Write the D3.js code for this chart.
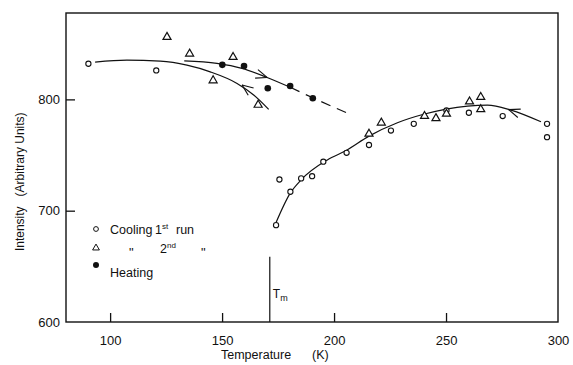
<!DOCTYPE html>
<html>
<head>
<meta charset="utf-8">
<script src="https://cdn.jsdelivr.net/npm/d3@7"></script>
<style>
  body { margin: 0; background: #fff; }
  text { font-family: "Liberation Sans", Arial, sans-serif; fill: #111; }
</style>
</head>
<body>
<div id="chart"></div>
<script>
// tick labels
var xTicks = [100, 150, 200, 250, 300];
var yTicks = [600, 700, 800];

// Cooling 1st run (open circles)
var cool1T = [90.3, 120.6, 174.1, 175.6, 180.5, 185.3, 190.2, 195.2, 205.6, 215.6, 225.4, 235.6, 250.2, 260.2, 275.3, 295.1, 295.1];
var cool1I = [832, 826, 687, 728, 717, 729, 731, 744, 752, 759, 772, 778, 790, 788, 785, 778, 766];

// Cooling 2nd run (triangles)
var cool2T = [125.4, 135.5, 154.9, 146.0, 166.1, 215.6, 221.1, 240.4, 245.5, 250.2, 260.5, 265.5, 265.5];
var cool2I = [856, 841, 838, 817, 795, 769, 779, 785, 783, 787, 798, 802, 791];

// Heating (filled circles)
var heatT = [150.1, 159.8, 170.4, 180.4, 190.5];
var heatI = [831, 830, 810, 812, 801];

// hand drawn guide curves
var curveCoolLowT = [93.3, 107.5, 122.4, 134.3, 144.7, 156.7, 164.1, 170.8];
var curveCoolLowI = [833.5, 835.2, 834.3, 830.7, 824.7, 814.3, 803.9, 791];
var curveHeatT = [133.1, 147.7, 158.9, 170.1, 180.5];
var curveHeatI = [834.6, 832.3, 827.8, 819.7, 810.8];
var curveHeatDashT = [180.5, 190.5, 206.2];
var curveHeatDashI = [810.8, 801.4, 787.5];
var curveCoolHighT = [174.1, 180.5, 185.3, 197.0, 205.4, 215.6, 228.3, 240.0, 259.6, 268.5, 279.0, 292.4];
var curveCoolHighI = [689.4, 716.0, 727.7, 745.6, 754.0, 767, 779.0, 786.6, 794, 794.9, 790.4, 779.9];

// arrows: tip and a point behind it (direction)
var arrowTipT = [158.9, 170.1, 278.0];
var arrowTipI = [813.0, 819.7, 790.8];
var arrowTailT = [163.5, 163.0, 288.0];
var arrowTailI = [806.0, 824.5, 783.8];

var tmValue = 171.3;
var tmTop = 658.7;

var margin = {top: 13, right: 15, bottom: 43, left: 66},
    width = 573 - margin.left - margin.right,
    height = 365 - margin.top - margin.bottom;

var svg = d3.select("#chart")
  .append("svg")
    .attr("width", 573)
    .attr("height", 365)
  .append("g")
    .attr("transform", "translate(" + margin.left + "," + margin.top + ")");

var x = d3.scaleLinear().domain([80.3, 300]).range([0, width]);
var y = d3.scaleLinear().domain([600, 877.6]).range([height, 0]);

// frame
svg.append("rect")
  .attr("x", 0).attr("y", 0)
  .attr("width", width).attr("height", height)
  .attr("fill", "none")
  .attr("stroke", "#111")
  .attr("stroke-width", 1.4);

// x axis ticks (inside)
var xAxis = svg.append("g")
  .attr("transform", "translate(0," + height + ")")
  .call(d3.axisBottom(x).tickValues(xTicks).tickSizeInner(-9).tickSizeOuter(0).tickPadding(14));
xAxis.select(".domain").remove();
xAxis.selectAll("line").attr("stroke", "#111").attr("stroke-width", 1.3)
  .filter(function(d) { return d === 300; }).remove();
xAxis.selectAll("text").attr("font-size", 13).attr("fill", "#111");

var yAxis = svg.append("g")
  .call(d3.axisLeft(y).tickValues(yTicks).tickSizeInner(-9).tickSizeOuter(0).tickPadding(6));
yAxis.select(".domain").remove();
yAxis.selectAll("line").attr("stroke", "#111").attr("stroke-width", 1.3)
  .filter(function(d) { return d === 600; }).remove();
yAxis.selectAll("text").attr("font-size", 13).attr("fill", "#111");

// axis titles
svg.append("text")
  .attr("x", 155).attr("y", height + 37)
  .attr("font-size", 12.5)
  .style("white-space", "pre")
  .text("Temperature      (K)");

svg.append("text")
  .attr("transform", "translate(" + (-42) + "," + (y(726)) + ") rotate(-90)")
  .attr("text-anchor", "middle")
  .attr("font-size", 12)
  .style("white-space", "pre")
  .text("Intensity   (Arbitrary Units)");

// Tm marker
svg.append("line")
  .attr("x1", x(tmValue)).attr("x2", x(tmValue))
  .attr("y1", y(tmTop)).attr("y2", height)
  .attr("stroke", "#111").attr("stroke-width", 1.2);
var tm = svg.append("text")
  .attr("x", x(tmValue) + 3).attr("y", y(622))
  .attr("font-size", 12);
tm.append("tspan").text("T");
tm.append("tspan").attr("font-size", 9).attr("dy", 3).text("m");

// curves
var line = d3.line()
  .x(function(d) { return x(d[0]); })
  .y(function(d) { return y(d[1]); })
  .curve(d3.curveMonotoneX);

function pairs(a, b) { return a.map(function(v, i) { return [v, b[i]]; }); }

svg.append("path").datum(pairs(curveCoolLowT, curveCoolLowI))
  .attr("d", line).attr("fill", "none").attr("stroke", "#111").attr("stroke-width", 1.2);
svg.append("path").datum(pairs(curveHeatT, curveHeatI))
  .attr("d", line).attr("fill", "none").attr("stroke", "#111").attr("stroke-width", 1.2);
svg.append("path").datum(pairs(curveHeatDashT, curveHeatDashI))
  .attr("d", line).attr("fill", "none").attr("stroke", "#111").attr("stroke-width", 1.2)
  .attr("stroke-dasharray", "10,7");
svg.append("path").datum(pairs(curveCoolHighT, curveCoolHighI))
  .attr("d", line).attr("fill", "none").attr("stroke", "#111").attr("stroke-width", 1.2);

// arrow heads
arrowTipT.forEach(function(t, i) {
  var tx = x(t), ty = y(arrowTipI[i]);
  var bx = x(arrowTailT[i]), by = y(arrowTailI[i]);
  var ang = Math.atan2(by - ty, bx - tx);
  var len = 12, spread = 0.38;
  [ang - spread, ang + spread].forEach(function(a) {
    svg.append("line")
      .attr("x1", tx).attr("y1", ty)
      .attr("x2", tx + len * Math.cos(a)).attr("y2", ty + len * Math.sin(a))
      .attr("stroke", "#111").attr("stroke-width", 1.1);
  });
});

// markers
svg.append("g").selectAll("circle")
  .data(pairs(cool1T, cool1I))
  .enter().append("circle")
    .attr("cx", function(d) { return x(d[0]); })
    .attr("cy", function(d) { return y(d[1]); })
    .attr("r", 2.6)
    .attr("fill", "#fff").attr("stroke", "#111").attr("stroke-width", 1.1);

var tri = d3.symbol().type(d3.symbolTriangle).size(28);
svg.append("g").selectAll("path")
  .data(pairs(cool2T, cool2I))
  .enter().append("path")
    .attr("d", tri)
    .attr("transform", function(d) { return "translate(" + x(d[0]) + "," + y(d[1]) + ")"; })
    .attr("fill", "#fff").attr("stroke", "#111").attr("stroke-width", 1.2);

svg.append("g").selectAll("circle")
  .data(pairs(heatT, heatI))
  .enter().append("circle")
    .attr("cx", function(d) { return x(d[0]); })
    .attr("cy", function(d) { return y(d[1]); })
    .attr("r", 3.3)
    .attr("fill", "#111");

// legend
var lg = svg.append("g").attr("transform", "translate(" + (96 - margin.left) + "," + (229 - margin.top) + ")");
lg.append("circle").attr("cx", 0).attr("cy", 0).attr("r", 2.4)
  .attr("fill", "#fff").attr("stroke", "#111").attr("stroke-width", 1);
var t1 = lg.append("text").attr("x", 14).attr("y", 4.5).attr("font-size", 12.5);
t1.append("tspan").text("Cooling ");
t1.append("tspan").attr("x", 59).text("1");
t1.append("tspan").attr("font-size", 8).attr("dy", -5).text("st");
t1.append("tspan").attr("x", 80).attr("dy", 5).text("run");

lg.append("path").attr("d", d3.symbol().type(d3.symbolTriangle).size(20))
  .attr("transform", "translate(0,19)")
  .attr("fill", "#fff").attr("stroke", "#111").attr("stroke-width", 1);
lg.append("text").attr("x", 33).attr("y", 28).attr("font-size", 13).attr("font-family", "DejaVu Sans").text("\"");
var t2 = lg.append("text").attr("x", 64).attr("y", 24).attr("font-size", 12.5);
t2.append("tspan").text("2");
t2.append("tspan").attr("font-size", 8).attr("dy", -5).text("nd");
lg.append("text").attr("x", 105).attr("y", 28).attr("font-size", 13).attr("font-family", "DejaVu Sans").text("\"");

lg.append("circle").attr("cx", 0).attr("cy", 36).attr("r", 3).attr("fill", "#111");
lg.append("text").attr("x", 14).attr("y", 48).attr("font-size", 12.5).text("Heating");
</script>
</body>
</html>
